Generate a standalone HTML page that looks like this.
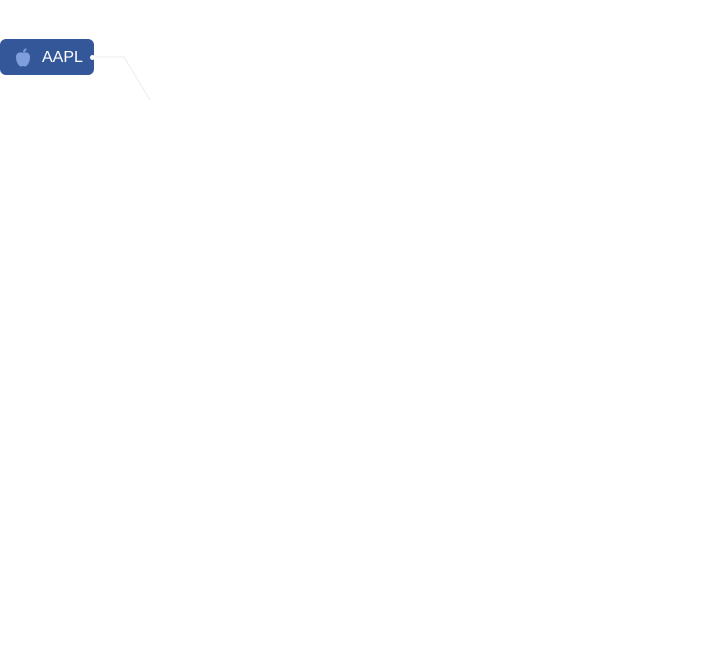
<!DOCTYPE html>
<html><head><meta charset="utf-8"><style>
html,body{margin:0;padding:0;background:#fff;width:710px;height:667px;overflow:hidden}
.node{position:absolute;left:0;top:39px;width:94px;height:36px;background:#34579a;border-radius:6px;box-sizing:border-box}
.lbl{position:absolute;left:42px;top:10px;font:16px "Liberation Sans",sans-serif;color:#fff;line-height:18px}
</style></head><body>
<svg width="710" height="667" style="position:absolute;left:0;top:0">
<polyline points="93,57 124,57 150,100" fill="none" stroke="#ececec" stroke-width="1"/>
</svg>
<div class="node">
<svg width="20" height="22" style="position:absolute;left:13px;top:8px" viewBox="0 0 20 22">
<path d="M10 6 C7 4.5 3 5.5 3 10.5 C3 15 6 19.5 8 19.5 C9 19.5 9.3 19 10 19 C10.7 19 11 19.5 12 19.5 C14 19.5 17 15 17 10.5 C17 5.5 13 4.5 10 6 Z" fill="#7f9fdc"/>
<path d="M10 5.5 C10 3 11.5 1.5 13.5 1.2 C13.5 3.5 12 5 10 5.5 Z" fill="#7f9fdc"/>
</svg>
<div class="lbl">AAPL</div>
</div>
<div style="position:absolute;left:90px;top:55px;width:5px;height:5px;border-radius:50%;background:#fff"></div>
</body></html>
